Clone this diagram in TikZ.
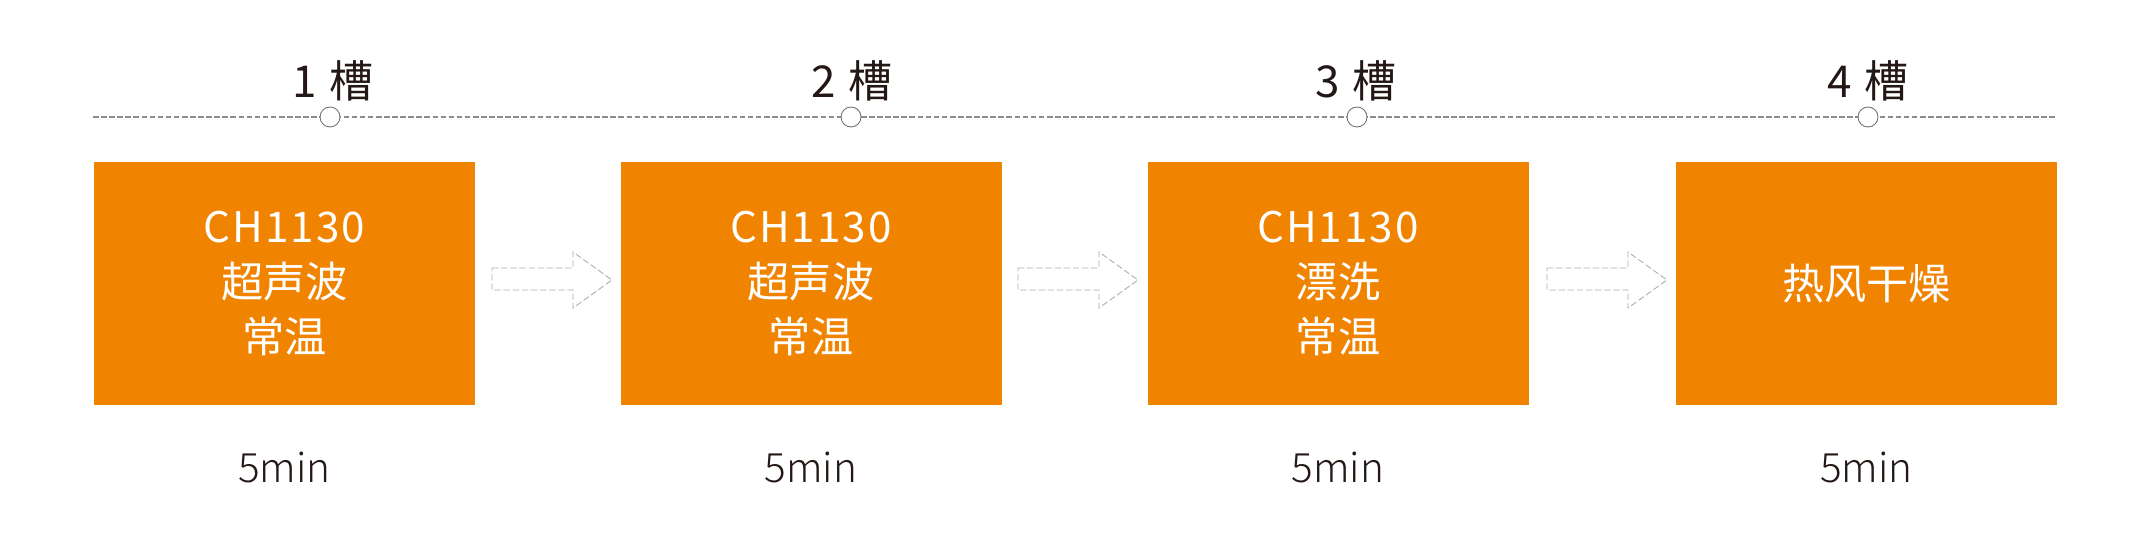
\documentclass[tikz,border=0pt]{standalone}
\usepackage{fontspec}
\setmainfont{Noto Sans CJK SC}
\newfontfamily\codefont[LetterSpace=5]{Noto Sans CJK SC}
\newfontfamily\thinfont{Noto Sans CJK SC Light}
\usetikzlibrary{positioning}

\definecolor{stageorange}{HTML}{F08300}
\definecolor{labeldark}{HTML}{231815}
\definecolor{lineGray}{HTML}{8C8C8C}
\definecolor{arrowGray}{HTML}{ADADAD}

\tikzset{
  stagebox/.style={fill=stageorange,inner sep=0pt,minimum width=76.2mm,minimum height=48.6mm,
    text=white,align=center,font=\fontsize{24}{31.5}\selectfont},
  slotdot/.style={circle,draw=lineGray!80!black,line width=0.5pt,fill=white,minimum size=4mm,inner sep=0pt},
  slotlabel/.style={anchor=base,text=labeldark,font=\fontsize{25}{30}\selectfont},
  timelabel/.style={anchor=base,text=labeldark,font=\thinfont\fontsize{23}{28}\selectfont},
  timeline/.style={draw=lineGray,line width=0.6pt,dash pattern=on 3.2pt off 1.4pt},
  arrowline/.style={draw=arrowGray,line width=0.5pt,dash pattern=on 3.6pt off 1.6pt,line join=miter}
}

% hollow dashed arrow between two stages, #1 = left end
\newcommand{\stagearrow}[1]{%
  \draw[arrowline] (#1,268) -- ++(81,0) -- ++(0,-16) -- ++(39,28) -- ++(-39,28) -- ++(0,-18) -- ++(-81,0) -- cycle;}

\begin{document}
\begin{tikzpicture}[x=0.2mm,y=-0.2mm]
\useasboundingbox (0,0) rectangle (2151,557);
% timeline
\coordinate (tl-start) at (93,117);
\coordinate (tl-end) at (2055,117);
\draw[timeline] (tl-start) -- (tl-end);
\node[slotdot] (slot1) at (330,117) {};
\node[slotdot] (slot2) at (851,117) {};
\node[slotdot] (slot3) at (1357,117) {};
\node[slotdot] (slot4) at (1868,117) {};
\node[slotlabel] (lab1) at (333,98) {1\hspace{0.3em}槽};
\node[slotlabel] (lab2) at (852,98) {2\hspace{0.3em}槽};
\node[slotlabel] (lab3) at (1356,98) {3\hspace{0.3em}槽};
\node[slotlabel] (lab4) at (1868,98) {4\hspace{0.3em}槽};
% stages
\node[stagebox] (box1) at (284.5,283.5) {{\codefont CH1130}\\超声波\\常温};
\node[stagebox] (box2) at (811,283.5) {{\codefont CH1130}\\超声波\\常温};
\node[stagebox] (box3) at (1338,283.5) {{\codefont CH1130}\\漂洗\\常温};
\node[stagebox] (box4) at (1866.5,283.5) {热风干燥};
\stagearrow{492}
\stagearrow{1018}
\stagearrow{1547}
% times
\node[timelabel] (time1) at (284.5,483) {5min};
\node[timelabel] (time2) at (811,483) {5min};
\node[timelabel] (time3) at (1338,483) {5min};
\node[timelabel] (time4) at (1866.5,483) {5min};
\end{tikzpicture}
\end{document}
